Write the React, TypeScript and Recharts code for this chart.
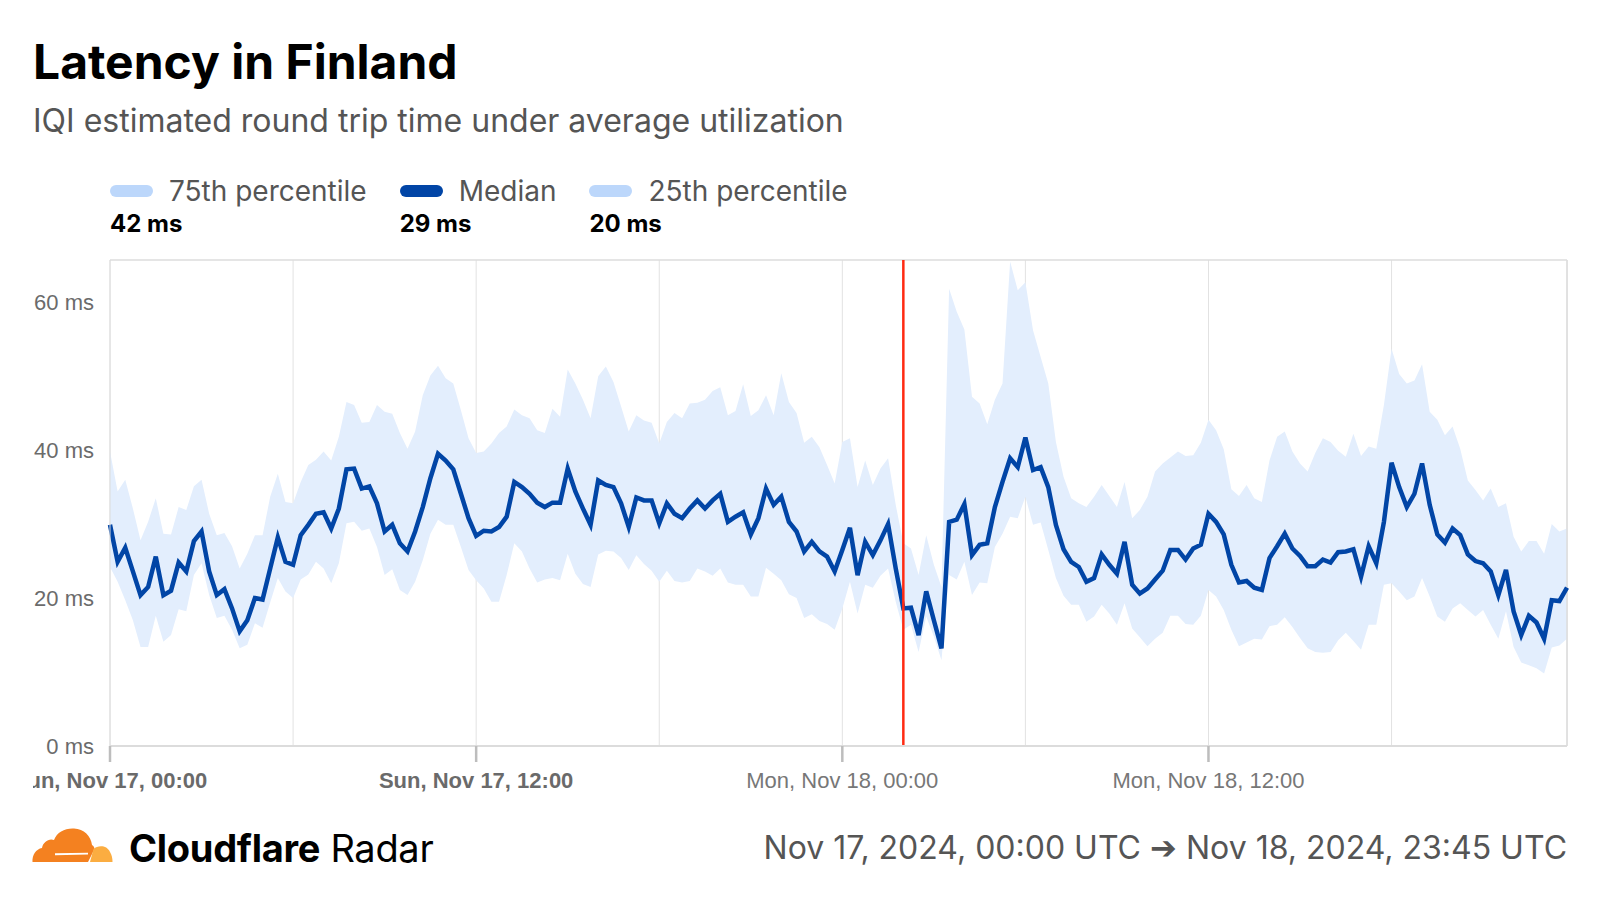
import {
  Area,
  CartesianGrid,
  ComposedChart,
  Line,
  ReferenceLine,
  XAxis,
  YAxis,
} from "recharts";

// 15-minute samples, Nov 17 00:00 -> Nov 18 23:45 UTC (192 points)
const P75 = [
  39.8, 34.4, 36.0, 32.1, 27.8, 30.3, 33.5, 28.7, 28.6, 32.3, 31.9, 35.1, 36.0, 31.4, 28.5, 28.8,
  27.0, 24.0, 26.0, 28.5, 28.5, 33.7, 36.8, 33.0, 32.8, 35.7, 38.0, 38.7, 39.8, 38.6, 41.8, 46.5,
  46.1, 43.7, 43.8, 46.1, 45.2, 44.9, 42.3, 40.2, 42.5, 47.4, 50.1, 51.4, 49.7, 49.0, 45.4, 41.6,
  39.6, 39.8, 40.9, 42.3, 43.2, 45.5, 44.7, 44.3, 42.7, 42.3, 45.6, 44.5, 50.9, 49.0, 46.8,
  44.3, 50.0, 51.3, 49.2, 45.9, 42.5, 44.7, 44.0, 43.7, 40.9, 43.8, 45.0, 44.3, 46.3, 46.4, 46.8,
  48.0, 48.5, 44.7, 45.3, 48.9, 44.6, 45.4, 47.4, 44.7, 50.4, 46.5, 45.0, 41.0, 41.8, 40.4, 38.0,
  35.5, 41.1, 41.6, 35.0, 38.6, 35.3, 37.5, 38.9, 32.6, 27.4, 26.7, 23.1, 28.5, 24.5, 21.5, 61.8,
  58.7, 56.3, 47.2, 46.3, 43.5, 46.8, 49.0, 65.5, 61.6, 62.7, 56.2, 52.6, 49.0, 41.1, 36.4,
  33.5, 32.8, 32.3, 33.7, 35.3, 33.8, 32.3, 35.7, 30.8, 31.9, 33.7, 37.1, 38.2, 39.0, 39.8, 39.2,
  39.3, 41.0, 44.1, 42.7, 40.1, 34.7, 33.8, 35.3, 33.5, 33.0, 38.6, 41.8, 42.5, 39.8, 38.2, 37.1,
  39.6, 41.6, 41.1, 39.9, 39.1, 42.2, 39.2, 40.5, 40.2, 46.1, 53.7, 50.3, 49.0, 49.4, 51.6, 45.2,
  44.1, 42.0, 43.2, 40.2, 35.9, 34.6, 33.2, 34.8, 32.3, 32.8, 28.3, 26.3, 27.7, 27.7, 26.0, 30.0,
  29.0, 29.4,
];

const MEDIAN = [
  29.9, 24.9, 26.8, 23.6, 20.4, 21.5, 25.6, 20.4, 21.0, 24.8, 23.6, 27.7, 29.0, 23.6, 20.4, 21.2,
  18.6, 15.5, 17.0, 20.0, 19.8, 24.0, 28.2, 24.9, 24.5, 28.5, 29.9, 31.4, 31.6, 29.4, 32.1, 37.4,
  37.5, 34.8, 35.1, 32.8, 29.0, 29.9, 27.4, 26.3, 29.0, 32.3, 36.2, 39.5, 38.6, 37.4, 34.1, 30.8,
  28.4, 29.1, 29.0, 29.6, 31.0, 35.7, 35.0, 34.1, 32.9, 32.3, 32.9, 32.9, 37.5, 34.4, 32.1,
  29.9, 35.9, 35.3, 35.0, 32.8, 29.6, 33.6, 33.2, 33.2, 30.1, 32.8, 31.4, 30.8, 32.1, 33.2, 32.1,
  33.2, 34.1, 30.3, 31.0, 31.6, 28.6, 30.8, 34.8, 32.6, 33.7, 30.3, 29.0, 26.3, 27.6, 26.3, 25.6,
  23.6, 26.5, 29.5, 23.1, 27.6, 25.8, 27.8, 30.0, 24.0, 18.6, 18.7, 15.0, 20.9, 17.0, 13.2, 30.3,
  30.6, 32.7, 25.8, 27.2, 27.4, 32.3, 35.7, 38.9, 37.7, 41.7, 37.3, 37.7, 35.0, 29.9, 26.6,
  24.9, 24.2, 22.2, 22.7, 25.9, 24.5, 23.3, 27.6, 21.8, 20.6, 21.3, 22.5, 23.7, 26.5, 26.5, 25.2,
  26.7, 27.2, 31.4, 30.3, 28.6, 24.5, 22.1, 22.3, 21.4, 21.1, 25.4, 27.0, 28.7, 26.7, 25.7, 24.3,
  24.3, 25.2, 24.8, 26.2, 26.3, 26.6, 22.9, 27.0, 24.7, 30.3, 38.3, 35.0, 32.3, 34.1, 38.2, 32.6,
  28.6, 27.5, 29.4, 28.5, 25.9, 25.0, 24.7, 23.6, 20.4, 23.8, 18.2, 15.0, 17.6, 16.7, 14.5, 19.7,
  19.6, 21.4,
];

const P25 = [
  24.2, 22.2, 19.7, 17.0, 13.4, 13.4, 17.6, 14.1, 15.0, 18.5, 18.2, 23.1, 24.7, 20.4, 17.3, 17.6,
  15.7, 13.2, 13.7, 16.6, 16.0, 19.4, 22.7, 20.9, 20.0, 22.5, 23.2, 24.9, 24.0, 22.0, 24.7, 30.1,
  30.3, 29.1, 29.4, 26.9, 23.1, 23.9, 21.1, 20.4, 22.2, 25.1, 28.7, 30.6, 29.9, 29.9, 26.9, 23.8,
  22.4, 21.3, 19.5, 19.5, 23.1, 27.4, 26.3, 24.0, 22.1, 22.5, 22.7, 22.4, 26.0, 23.3, 21.9,
  21.5, 25.9, 26.4, 26.3, 25.4, 23.8, 25.8, 24.6, 23.7, 22.2, 23.7, 22.3, 22.1, 22.3, 24.0, 23.6,
  23.0, 24.0, 22.1, 21.8, 21.8, 20.2, 20.2, 24.1, 23.3, 22.4, 20.5, 20.0, 17.3, 17.8, 16.9, 16.5,
  15.7, 18.6, 22.2, 17.9, 21.8, 21.4, 23.0, 24.0, 19.5, 15.7, 16.4, 12.7, 17.5, 14.8, 11.6, 23.1,
  22.5, 24.9, 20.4, 22.1, 22.0, 26.9, 28.7, 31.0, 30.8, 33.7, 29.9, 30.2, 26.5, 22.7, 20.3,
  19.1, 19.1, 16.8, 17.5, 19.1, 17.9, 16.4, 19.3, 15.9, 14.7, 13.5, 14.5, 15.3, 17.6, 17.6, 16.5,
  16.4, 17.6, 21.1, 20.2, 18.4, 15.7, 13.5, 14.0, 14.5, 14.4, 16.2, 16.4, 17.4, 16.1, 14.6, 13.2,
  12.7, 12.6, 12.7, 14.3, 15.3, 14.2, 13.0, 16.4, 16.4, 21.8, 22.0, 20.9, 19.7, 20.2, 22.7, 20.2,
  17.5, 16.8, 18.6, 19.3, 18.4, 17.5, 18.4, 16.4, 14.5, 18.2, 13.4, 11.3, 10.9, 10.5, 9.8, 13.3,
  13.6, 14.5,
];

const GRID_TICKS = [0, 24, 48, 72, 96, 120, 144, 168];
const LABEL_TICKS = [0, 48, 96, 144];
const LABEL_TEXT = ["Sun, Nov 17, 00:00", "Sun, Nov 17, 12:00", "Mon, Nov 18, 00:00", "Mon, Nov 18, 12:00"];
const BOLD_LABELS = [0, 48];
const Y_TICKS = [0, 20, 40, 60];
const Y_MAX = 65.7;
const LAST_INDEX = 191;
const EVENT_INDEX = 104;

const LEGEND_LABELS = ["75th percentile", "Median", "25th percentile"];
const LEGEND_VALUES = ["42 ms", "29 ms", "20 ms"];
const LEGEND_COLORS = ["#bcd7fb", "#0145a6", "#bcd7fb"];

const FONT = "Inter, 'Noto Sans', sans-serif";
const AXIS_FONT = "'Liberation Sans', Arial, sans-serif";
const BAND = "#e3eefd";
const LINE = "#0145a6";

const data = MEDIAN.map((m, i) => ({ t: i, median: m, band: [P25[i], P75[i]] }));

function XTick(props: any) {
  const { x, y, payload } = props;
  const idx = LABEL_TICKS.indexOf(payload.value);
  if (idx < 0) return null;
  const bold = BOLD_LABELS.includes(payload.value);
  return (
    <g>
      <line x1={x} x2={x} y1={y} y2={y + 16} stroke="#bdbdbd" strokeWidth={2.5} />
      <text
        x={x}
        y={y + 42}
        textAnchor="middle"
        fontFamily={AXIS_FONT}
        fontSize={22}
        fontWeight={bold ? 700 : 400}
        fill={bold ? "#6a6a6a" : "#777"}
      >
        {LABEL_TEXT[idx]}
      </text>
    </g>
  );
}

function Logo() {
  return (
    <svg width={81} height={35} viewBox="0 0 81 35">
      <path
        d="M0.5 34 C0 27 4 21 10 20 C11 14 17 10 22 12 C25 4 33 0 42 0.5 C52 1 59 8 60 17 C62 18 63 20 62 22 L56 34 Z"
        fill="#f48120"
      />
      <path d="M58 34 L61.5 21 C66 17 75 17 78 24 C80 27 80.5 31 80.5 34 Z" fill="#fbad41" />
      <path d="M23 25.3 L56 24.8 L56 26.6 L23 27.2 Z" fill="#fff" />
    </svg>
  );
}

export default function App() {
  return (
    <div
      style={{
        position: "absolute",
        left: 0,
        top: 0,
        width: 1600,
        height: 900,
        background: "#fff",
        overflow: "hidden",
        fontFamily: FONT,
      }}
    >
      <div style={{ position: "absolute", left: 33, top: 38, fontSize: 48, lineHeight: "48px", fontWeight: 700, color: "#000" }}>
        Latency in Finland
      </div>
      <div style={{ position: "absolute", left: 33, top: 105, fontSize: 32, lineHeight: "32px", color: "#555" }}>
        IQI estimated round trip time under average utilization
      </div>

      <div style={{ position: "absolute", left: 110, top: 177, display: "flex" }}>
        {LEGEND_LABELS.map((label, i) => (
          <div key={label} style={{ marginRight: 33 }}>
            <div style={{ display: "flex", alignItems: "center", height: 28 }}>
              <div style={{ width: 43, height: 12, borderRadius: 6, background: LEGEND_COLORS[i], marginRight: 16 }} />
              <span style={{ fontSize: 28, lineHeight: "28px", color: "#555" }}>{label}</span>
            </div>
            <div style={{ fontSize: 24, lineHeight: "24px", fontWeight: 700, color: "#000", marginTop: 7 }}>
              {LEGEND_VALUES[i]}
            </div>
          </div>
        ))}
      </div>

      <div style={{ position: "absolute", left: 33, top: 250, width: 1536, height: 560, overflow: "hidden" }}>
        <ComposedChart width={1536} height={560} data={data} margin={{ top: 10, right: 2, bottom: 0, left: 0 }}>
          <CartesianGrid vertical horizontal={false} stroke="#e2e2e2" />
          <XAxis
            dataKey="t"
            type="number"
            domain={[0, LAST_INDEX]}
            ticks={GRID_TICKS}
            interval={0}
            height={64}
            tickSize={0}
            tickMargin={0}
            tickLine={false}
            axisLine={{ stroke: "#dcdcdc", strokeWidth: 2 }}
            tick={<XTick />}
          />
          <YAxis
            type="number"
            domain={[0, Y_MAX]}
            ticks={Y_TICKS}
            width={77}
            tickSize={0}
            tickMargin={16}
            tickLine={false}
            axisLine={{ stroke: "#dcdcdc" }}
            tickFormatter={(v) => `${v} ms`}
            tick={{ fontSize: 22, fill: "#6b6b6b", fontFamily: AXIS_FONT }}
          />
          <ReferenceLine y={Y_MAX} stroke="#dcdcdc" strokeWidth={1.5} />
          <ReferenceLine x={LAST_INDEX} stroke="#dcdcdc" strokeWidth={1.5} />
          <Area
            dataKey="band"
            type="linear"
            stroke="none"
            fill={BAND}
            fillOpacity={1}
            isAnimationActive={false}
          />
          <Line
            dataKey="median"
            type="linear"
            stroke={LINE}
            strokeWidth={4.5}
            dot={false}
            isAnimationActive={false}
          />
          <ReferenceLine x={EVENT_INDEX} stroke="#ff2a12" strokeWidth={2.5} />
        </ComposedChart>
      </div>

      <div style={{ position: "absolute", left: 32, top: 828, lineHeight: 0 }}>
        <Logo />
      </div>
      <div style={{ position: "absolute", left: 129, top: 829, fontSize: 38, lineHeight: "38px", color: "#000", letterSpacing: -0.3 }}>
        <span style={{ fontWeight: 700 }}>Cloudflare</span> Radar
      </div>
      <div style={{ position: "absolute", right: 33, top: 832, fontSize: 32, lineHeight: "32px", color: "#555", textAlign: "right" }}>
        Nov 17, 2024, 00:00 UTC ➔ Nov 18, 2024, 23:45 UTC
      </div>
    </div>
  );
}
